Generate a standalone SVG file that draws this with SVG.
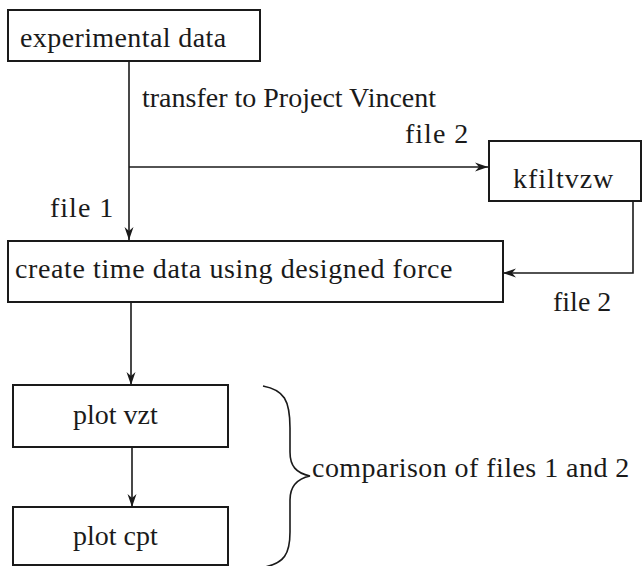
<svg xmlns="http://www.w3.org/2000/svg" width="643" height="566" viewBox="0 0 643 566">
<style>
.box{fill:#fff;stroke:#1a1a1a;stroke-width:2}
.c{fill:none;stroke:#1a1a1a;stroke-width:1.6}
</style>
<defs>
<marker id="ah" viewBox="0 0 14 10" refX="13" refY="5" markerWidth="14" markerHeight="10" markerUnits="userSpaceOnUse" orient="auto">
<path d="M0,0.5 L13,5 L0,9.5 L4,5 Z" fill="#1a1a1a"/>
</marker>
</defs>
<rect width="643" height="566" fill="#fff"/>
<g font-family="Liberation Serif" font-size="28" fill="#1a1a1a">
<g id="connectors">
<path class="c" d="M129,61 L129,240" marker-end="url(#ah)"/>
<path class="c" d="M129,167 L488,167" marker-end="url(#ah)"/>
<path class="c" d="M633,201 L633,273 L503,273" marker-end="url(#ah)"/>
<path class="c" d="M131,302 L131,385" marker-end="url(#ah)"/>
<path class="c" d="M132,447 L132,507" marker-end="url(#ah)"/>
<text x="142" y="107">transfer to Project Vincent</text>
<text x="405" y="143" letter-spacing="1">file 2</text>
<text x="50" y="217" letter-spacing="1">file 1</text>
<text x="553" y="311">file 2</text>
</g>
<g id="experimental-data">
<rect class="box" x="8" y="10" width="252" height="51"/>
<text x="20" y="47" letter-spacing="0.4">experimental data</text>
</g>
<g id="kfiltvzw">
<rect class="box" x="489" y="141" width="152" height="60"/>
<text x="513" y="188" letter-spacing="1">kfiltvzw</text>
</g>
<g id="create-time-data">
<rect class="box" x="8" y="241" width="495" height="61"/>
<text x="15" y="278" letter-spacing="0.6">create time data using designed force</text>
</g>
<g id="plot-vzt">
<rect class="box" x="13" y="385" width="215" height="62"/>
<text x="73" y="424">plot vzt</text>
</g>
<g id="plot-cpt">
<rect class="box" x="13" y="507" width="215" height="58"/>
<text x="73" y="545">plot cpt</text>
</g>
<g id="comparison">
<path class="c" d="M263,386 C284,390 290,400 290,428 L290,452 C290,466 296,473 310,476 C296,479 290,487 290,500 L290,532 C290,554 284,563 265,567"/>
<text x="312" y="477" letter-spacing="0.45">comparison of files 1 and 2</text>
</g>
</g>
</svg>
